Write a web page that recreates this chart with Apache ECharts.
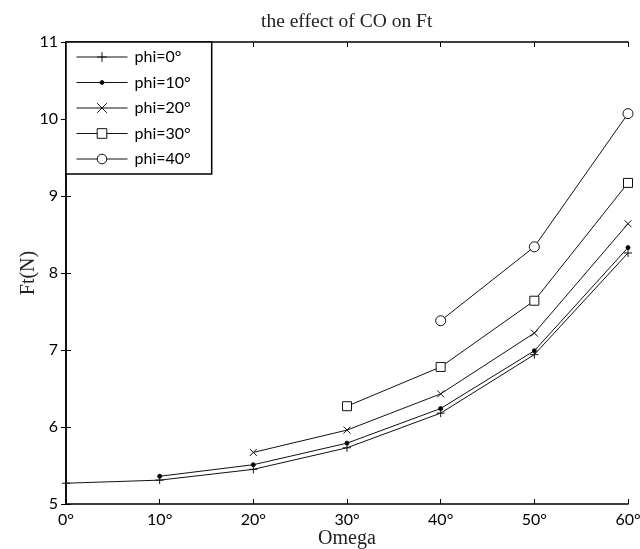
<!DOCTYPE html>
<html><head><meta charset="utf-8">
<script src="https://cdn.jsdelivr.net/npm/echarts@6/dist/echarts.min.js"></script>
<style>html,body{margin:0;padding:0;background:#fff}#c{width:640px;height:549px}</style>
</head><body><div id="c"></div>
<script>
const omega = [0, 10, 20, 30, 40, 50, 60];
const phi0  = [5.27, 5.31, 5.45, 5.73, 6.18, 6.94, 8.26];
const phi10 = [null, 5.36, 5.51, 5.79, 6.24, 6.99, 8.33];
const phi20 = [null, null, 5.67, 5.96, 6.43, 7.22, 8.64];
const phi30 = [null, null, null, 6.27, 6.78, 7.64, 9.17];
const phi40 = [null, null, null, null, 7.38, 8.34, 10.07];
const seriesNames = ['phi=0°', 'phi=10°', 'phi=20°', 'phi=30°', 'phi=40°'];
const xTicks = [0, 10, 20, 30, 40, 50, 60];
const yTicks = [5, 6, 7, 8, 9, 10, 11];

const sans = 'Lato';
const serif = 'Liberation Serif';
const plus = 'path://M0,-1L0,1M-1,0L1,0';
const cross = 'path://M-1,-1L1,1M-1,1L1,-1';
const dot = 'path://M-5,-5M5,5M-2,0A2,2,0,1,1,2,0A2,2,0,1,1,-2,0Z';
const symbols = [plus, dot, cross, 'rect', 'circle'];
const sizes = [8, 10, 7, 9, 10];
const fills = ['#000', '#000', '#000', '#fff', '#fff'];
const all = [phi0, phi10, phi20, phi30, phi40];

const series = all.map((vals, i) => ({
  name: seriesNames[i],
  type: 'line',
  data: omega.map((x, j) => vals[j] == null ? null : [x, vals[j]]).filter(d => d),
  symbol: symbols[i],
  symbolSize: sizes[i],
  showAllSymbol: true,
  lineStyle: { color: '#111', width: 1 },
  itemStyle: { color: fills[i], borderColor: '#111', borderWidth: 1 },
  emphasis: { disabled: true },
  animation: false,
  z: 3
}));

const chart = echarts.init(document.getElementById('c'));
const axisBase = {
  axisLine: { show: true, lineStyle: { color: '#000', width: 1.5 } },
  axisTick: { show: true, inside: true, length: 5, lineStyle: { color: '#000', width: 1 } },
  splitLine: { show: false },
  nameMoveOverlap: false
};
chart.setOption({
  animation: false,
  backgroundColor: '#fff',
  title: {
    text: 'the effect of CO on Ft',
    left: 256, top: 7,
    textStyle: { fontFamily: serif, fontSize: 19.5, fontWeight: 'normal', color: '#222' }
  },
  legend: {
    orient: 'vertical',
    left: 66, top: 42,
    itemWidth: 51, itemHeight: 12, itemGap: 9.5,
    padding: [7, 21, 7, 10],
    borderColor: '#000', borderWidth: 1.5,
    backgroundColor: '#fff',
    lineStyle: { width: 1, color: '#111' },
    itemStyle: { borderWidth: 1, borderColor: '#111' },
    textStyle: { fontFamily: sans, fontSize: 16, color: '#000', lineHeight: 16, padding: [0, 0, 0, 2] },
    data: seriesNames
  },
  grid: { left: 66, right: 12, top: 42, bottom: 45, containLabel: false, outerBoundsMode: 'none' },
  xAxis: [
    Object.assign({}, axisBase, {
      type: 'value', min: 0, max: 60, interval: 10, position: 'bottom',
      name: 'Omega', nameLocation: 'middle', nameGap: 25,
      nameTextStyle: { fontFamily: serif, fontSize: 20, color: '#222' },
      axisLabel: { formatter: v => xTicks.includes(v) ? v + '°' : '', fontFamily: sans, fontSize: 16, color: '#000', margin: 8 }
    }),
    Object.assign({}, axisBase, {
      type: 'value', min: 0, max: 60, interval: 10, position: 'top',
      axisLabel: { show: false }
    })
  ],
  yAxis: [
    Object.assign({}, axisBase, {
      type: 'value', min: 5, max: 11, interval: 1, position: 'left',
      name: 'Ft(N)', nameLocation: 'middle', nameGap: 27,
      nameTextStyle: { fontFamily: serif, fontSize: 20, color: '#222' },
      axisLabel: { formatter: v => yTicks.includes(v) ? String(v) : '', fontFamily: sans, fontSize: 16, color: '#000', margin: 8 }
    }),
    Object.assign({}, axisBase, {
      type: 'value', min: 5, max: 11, interval: 1, position: 'right',
      axisLabel: { show: false }
    })
  ],
  series: series
});
</script></body></html>
